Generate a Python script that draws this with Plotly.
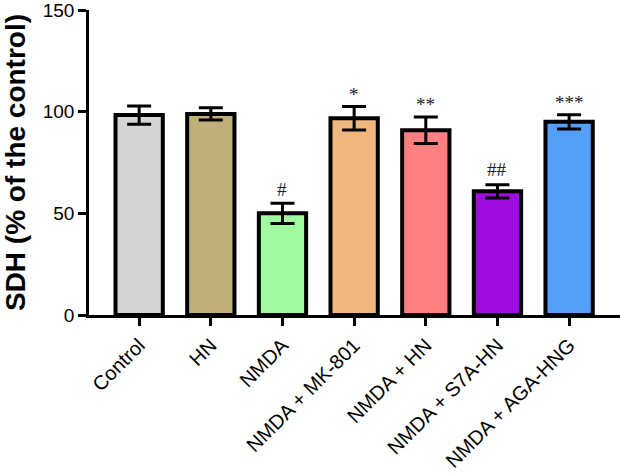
import plotly.graph_objects as go

categories = ["Control", "HN", "NMDA", "NMDA + MK-801", "NMDA + HN", "NMDA + S7A-HN", "NMDA + AGA-HNG"]
means = [98.3, 98.9, 50.0, 96.8, 90.9, 60.8, 95.0]
errors = [4.5, 3.0, 5.0, 5.8, 6.5, 3.2, 3.5]
colors = ["#D4D4D4", "#BFB07A", "#A0FBA0", "#EFB77E", "#FF8080", "#A10DDE", "#559FF8"]
sig_labels = ["", "", "#", "*", "**", "##", "***"]
sig_y = [None, None, 61.5, 108.5, 103.5, 71.5, 104.5]

fig = go.Figure()
fig.add_trace(go.Bar(
    x=categories, y=means,
    width=0.66,
    marker=dict(color=colors, line=dict(color="black", width=4)),
    error_y=dict(type="data", array=errors, visible=True, color="black", thickness=3, width=12),
    showlegend=False,
))

for cat, lab, yy in zip(categories, sig_labels, sig_y):
    if lab:
        fig.add_annotation(x=cat, y=yy, text=lab, showarrow=False, xref="x", yref="y",
                           font=dict(family="Liberation Serif", size=19, color="#222"))

fig.update_layout(
    width=620, height=475,
    margin=dict(l=89, r=0, t=10, b=160, autoexpand=False),
    plot_bgcolor="white", paper_bgcolor="white",
    font=dict(family="Liberation Sans", color="black"),
)
fig.update_xaxes(
    range=[-0.7, 6.71], showline=True, linecolor="black", linewidth=2.5,
    ticks="outside", ticklen=8, tickwidth=2.5, tickcolor="black",
    tickangle=-45, tickfont=dict(size=20, family="Liberation Sans"), showgrid=False,
    automargin=False,
)
fig.update_yaxes(
    range=[0, 150], tickvals=[0, 50, 100, 150],
    showline=True, linecolor="black", linewidth=2.5,
    ticks="outside", ticklen=8, tickwidth=2.5, tickcolor="black", ticklabeloverflow="allow",
    tickfont=dict(size=19, family="Liberation Sans"), showgrid=False, zeroline=False,
    title=dict(text="<b>SDH (% of the control)</b>", font=dict(size=28, family="Liberation Sans"), standoff=10),
    automargin=False,
)

fig.write_html(
    "out.html",
    config={"displayModeBar": False},
    post_script="document.body.style.margin='0';document.body.style.overflow='hidden';",
)
